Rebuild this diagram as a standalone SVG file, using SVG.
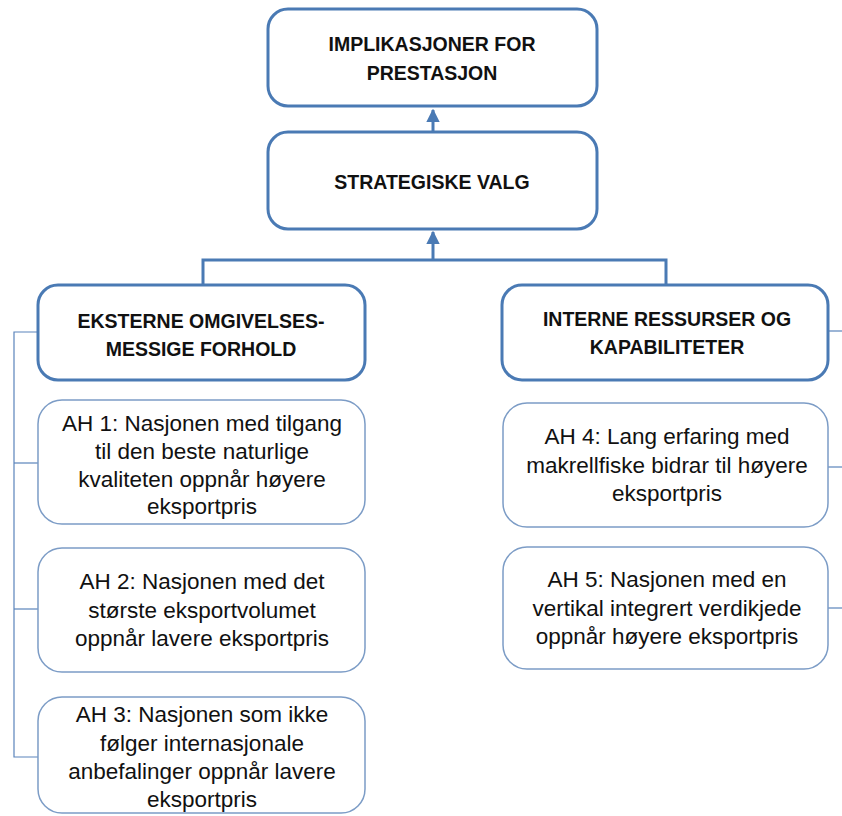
<svg xmlns="http://www.w3.org/2000/svg" width="842" height="816" viewBox="0 0 842 816">
<style>
.hd{fill:#fff;stroke:#4a7ab4;stroke-width:3}
.ah{fill:#fff;stroke:#7c9cc6;stroke-width:1.5}
.ht{font-family:"Liberation Sans",Arial,sans-serif;font-weight:bold;font-size:19.5px;fill:#111;text-anchor:middle}
.bt{font-family:"Liberation Sans",Arial,sans-serif;font-size:22.5px;fill:#111;text-anchor:middle}
.c{fill:none;stroke:#4a7ab4;stroke-width:3}
.t{fill:none;stroke:#5a84bb;stroke-width:1.2}
</style>
<defs>
<marker id="arr" viewBox="0 0 10 10" refX="9" refY="5" markerWidth="4.5" markerHeight="4.5" orient="auto" markerUnits="strokeWidth">
<path d="M0,0 L10,5 L0,10 z" fill="#4a7ab4"/>
</marker>
</defs>
<g id="connectors">
<line class="c" x1="433" y1="131" x2="433" y2="110" marker-end="url(#arr)"/>
<polyline class="c" points="203,286 203,260 666,260 666,286"/>
<line class="c" x1="433" y1="260" x2="433" y2="232" marker-end="url(#arr)"/>
<polyline class="t" points="38,332 14,332 14,757 38,757"/>
<line class="t" x1="14" y1="463" x2="38" y2="463"/>
<line class="t" x1="14" y1="609" x2="38" y2="609"/>
<line class="t" x1="828" y1="331" x2="842" y2="331"/>
<line class="t" x1="828" y1="467" x2="842" y2="467"/>
<line class="t" x1="828" y1="608" x2="842" y2="608"/>
</g>
<g id="top">
<rect class="hd" x="268" y="9" width="329" height="97" rx="20"/>
<text class="ht" x="432" y="51">IMPLIKASJONER FOR</text>
<text class="ht" x="432" y="80">PRESTASJON</text>
</g>
<g id="strat">
<rect class="hd" x="268" y="132" width="329" height="97" rx="20"/>
<text class="ht" x="432" y="189">STRATEGISKE VALG</text>
</g>
<g id="ext">
<rect class="hd" x="38" y="285" width="327" height="95" rx="20"/>
<text class="ht" x="201" y="328">EKSTERNE OMGIVELSES-</text>
<text class="ht" x="201" y="356">MESSIGE FORHOLD</text>
</g>
<g id="int">
<rect class="hd" x="502" y="285" width="326" height="95" rx="20"/>
<text class="ht" x="667" y="326">INTERNE RESSURSER OG</text>
<text class="ht" x="667" y="354">KAPABILITETER</text>
</g>
<g id="ah1">
<rect class="ah" x="38" y="400" width="327" height="124" rx="24"/>
<text class="bt" x="202" y="431">AH 1: Nasjonen med tilgang</text>
<text class="bt" x="202" y="459">til den beste naturlige</text>
<text class="bt" x="202" y="487">kvaliteten oppnår høyere</text>
<text class="bt" x="202" y="514">eksportpris</text>
</g>
<g id="ah2">
<rect class="ah" x="38" y="548" width="327" height="124" rx="24"/>
<text class="bt" x="202" y="589">AH 2: Nasjonen med det</text>
<text class="bt" x="202" y="618">største eksportvolumet</text>
<text class="bt" x="202" y="646">oppnår lavere eksportpris</text>
</g>
<g id="ah3">
<rect class="ah" x="38" y="697" width="327" height="116" rx="24"/>
<text class="bt" x="202" y="722">AH 3: Nasjonen som ikke</text>
<text class="bt" x="202" y="751">følger internasjonale</text>
<text class="bt" x="202" y="779">anbefalinger oppnår lavere</text>
<text class="bt" x="202" y="807">eksportpris</text>
</g>
<g id="ah4">
<rect class="ah" x="503" y="403" width="325" height="124" rx="24"/>
<text class="bt" x="667" y="444">AH 4: Lang erfaring med</text>
<text class="bt" x="667" y="473">makrellfiske bidrar til høyere</text>
<text class="bt" x="667" y="501">eksportpris</text>
</g>
<g id="ah5">
<rect class="ah" x="503" y="547" width="325" height="122" rx="24"/>
<text class="bt" x="667" y="587">AH 5: Nasjonen med en</text>
<text class="bt" x="667" y="616">vertikal integrert verdikjede</text>
<text class="bt" x="667" y="644">oppnår høyere eksportpris</text>
</g>
</svg>
